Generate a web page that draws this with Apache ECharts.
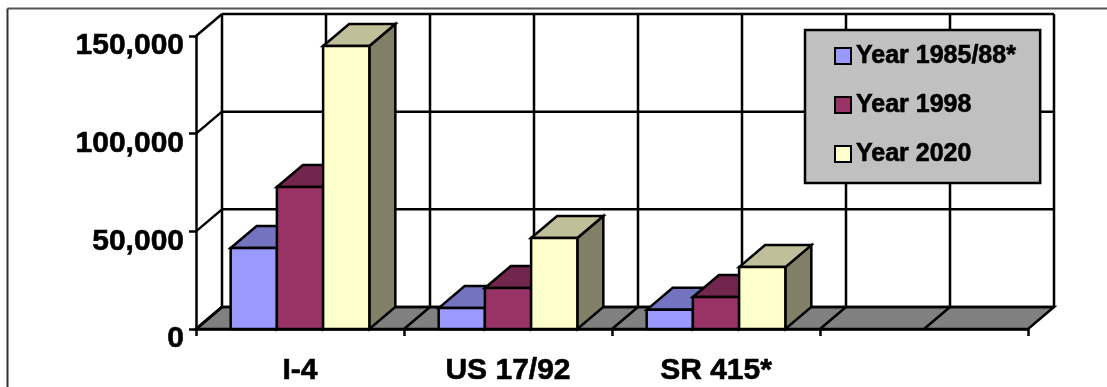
<!DOCTYPE html>
<html>
<head>
<meta charset="utf-8">
<style>html,body{margin:0;padding:0;background:#fff}#c{width:1107px;height:387px}</style>
<script src="https://cdn.jsdelivr.net/npm/echarts@6/dist/echarts.min.js"></script>
</head>
<body>
<div id="c"></div>
<script>
const categories = ['I-4', 'US 17/92', 'SR 415*', ''];
const year1985 = [41500, 10700, 9800, null];
const year1998 = [72700, 21000, 16400, null];
const year2020 = [144900, 46600, 31700, null];
const yTicks = [0, 50000, 100000, 150000];
const seriesNames = ['Year 1985/88*', 'Year 1998', 'Year 2020'];

const faces = [
  {front: '#9999ff', top: '#7373bf', side: '#4d4d80'},
  {front: '#993366', top: '#73264d', side: '#4d1a33'},
  {front: '#ffffcc', top: '#bfbf99', side: '#808066'}
];
const DX = 26, DY = 22, LW = 2.5;
const lineStyle = {stroke: '#000', lineWidth: LW, fill: null};
const edge = {stroke: '#000', lineWidth: LW, lineJoin: 'miter'};

function renderFrame(params, api) {
  const band = api.size([1, 0])[0];
  const x0 = api.coord([0, 0])[0] - band / 2;
  const x1 = x0 + band * categories.length;
  const yb = api.coord([0, 0])[1];
  const children = [];
  const line = (a, b, c, d) => children.push({type: 'line', shape: {x1: a, y1: b, x2: c, y2: d}, style: lineStyle});
  // floor
  children.push({type: 'polygon', shape: {points: [[x0, yb], [x1, yb], [x1 + DX, yb - DY], [x0 + DX, yb - DY]]},
    style: {fill: '#808080', stroke: '#000', lineWidth: LW}});
  const top = api.coord([0, yTicks[yTicks.length - 1]])[1];
  // back-wall vertical lines and floor diagonals, every half category
  for (let i = 0; i <= categories.length * 2; i++) {
    const x = x0 + i * band / 2;
    line(x + DX, top - DY, x + DX, yb - DY);
    if (i < categories.length * 2) line(x, yb, x + DX, yb - DY);
  }
  // back-wall horizontals and left-wall diagonals
  yTicks.forEach(v => {
    const y = api.coord([0, v])[1];
    line(x0 + DX, y - DY, x1 + DX, y - DY);
    line(x0, y, x0 + DX, y - DY);
  });
  return {type: 'group', children};
}

function renderBar(sIdx) {
  return function (params, api) {
    const v = api.value(1);
    if (v == null || isNaN(v)) return null;
    const band = api.size([1, 0])[0];
    const w = band / 4.5;
    const c = api.coord([api.value(0), v]);
    const yb = api.coord([api.value(0), 0])[1];
    const xl = c[0] + (sIdx - 1.5) * w;
    const xr = xl + w;
    const yt = c[1];
    const f = faces[sIdx];
    return {type: 'group', children: [
      {type: 'polygon', shape: {points: [[xr, yb], [xr + DX, yb - DY], [xr + DX, yt - DY], [xr, yt]]},
        style: Object.assign({fill: f.side}, edge)},
      {type: 'polygon', shape: {points: [[xl, yt], [xl + DX, yt - DY], [xr + DX, yt - DY], [xr, yt]]},
        style: Object.assign({fill: f.top}, edge)},
      {type: 'polygon', shape: {points: [[xl, yb], [xr, yb], [xr, yt], [xl, yt]]},
        style: Object.assign({fill: f.front}, edge)}
    ]};
  };
}

const seriesData = [year1985, year1998, year2020];
const chart = echarts.init(document.getElementById('c'), null, {renderer: 'canvas'});
const heavy = {textBorderColor: '#000', textBorderWidth: 0.6};
chart.setOption({
  animation: false,
  backgroundColor: '#fff',
  textStyle: {fontFamily: '"Liberation Sans", Arial, sans-serif'},
  grid: {left: 196, right: 79, top: 36, bottom: 58, containLabel: false},
  xAxis: {
    type: 'category', data: categories, z: 3,
    axisLine: {lineStyle: {color: '#000', width: LW}},
    axisTick: {show: true, length: 7, alignWithLabel: false, lineStyle: {color: '#000', width: LW}},
    axisLabel: Object.assign({interval: 0, color: '#000', fontSize: 30, fontWeight: 'bold', margin: 27,
      fontFamily: '"Liberation Sans", Arial, sans-serif'}, heavy),
    splitLine: {show: false}
  },
  yAxis: {
    type: 'value', min: 0, max: 150000, interval: 50000, z: 3,
    axisLine: {show: true, lineStyle: {color: '#000', width: LW}},
    axisTick: {show: true, length: 7, lineStyle: {color: '#000', width: LW}},
    axisLabel: Object.assign({color: '#000', fontSize: 30, fontWeight: 'bold', margin: 12, verticalAlign: 'top', lineHeight: 20,
      fontFamily: '"Liberation Sans", Arial, sans-serif',
      formatter: v => v.toLocaleString('en-US')}, heavy),
    splitLine: {show: false}
  },
  legend: {
    data: seriesNames, orient: 'vertical', left: 805, top: 30,
    backgroundColor: '#c0c0c0', borderColor: '#000', borderWidth: 2.5, borderRadius: 0,
    padding: [12, 24, 15, 29],
    itemWidth: 16, itemHeight: 16, itemGap: 21, selectedMode: false,
    icon: 'rect',
    textStyle: Object.assign({color: '#000', fontSize: 25, fontWeight: 'bold', lineHeight: 26,
      fontFamily: '"Liberation Sans", Arial, sans-serif', padding: [2, 0, 0, 0]}, heavy)
  },
  series: [
    {type: 'custom', name: 'frame', z: 1, silent: true, clip: false, renderItem: renderFrame, data: [[0, 0]], encode: {x: 0, y: 1}},
    ...seriesNames.map((name, s) => ({
      type: 'custom', name, z: 2, silent: true, clip: false,
      renderItem: renderBar(s),
      itemStyle: {color: faces[s].front, borderColor: '#000', borderWidth: 2.5},
      encode: {x: 0, y: 1},
      data: seriesData[s].map((v, i) => [i, v])
    }))
  ],
  graphic: [
    {type: 'line', z: 0, shape: {x1: 7.5, y1: 8.5, x2: 1107, y2: 8.5}, style: {stroke: '#555', lineWidth: 2}},
    {type: 'line', z: 0, shape: {x1: 7.5, y1: 8.5, x2: 7.5, y2: 387}, style: {stroke: '#333', lineWidth: 2}}
  ]
});
</script>
</body>
</html>
